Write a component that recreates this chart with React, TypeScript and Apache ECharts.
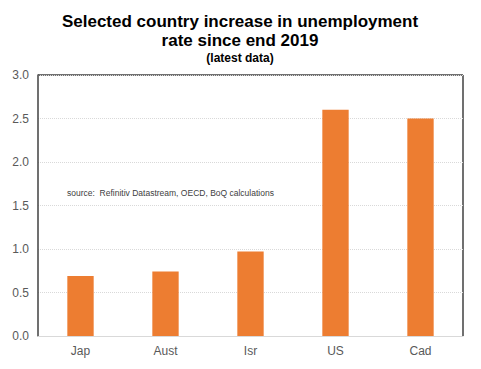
import React, { useEffect, useRef } from "react";
import * as echarts from "echarts";

const categories = ["Jap", "Aust", "Isr", "US", "Cad"];
const values = [0.69, 0.74, 0.97, 2.6, 2.5];
const titleLines = ["Selected country increase in unemployment", "rate since end 2019"];
const subtitle = "(latest data)";
const sourceNote = "source:  Refinitiv Datastream, OECD, BoQ calculations";

export default function App() {
  const ref = useRef<HTMLDivElement>(null);
  useEffect(() => {
    const chart = echarts.init(ref.current!, null, { renderer: "svg" });
    chart.setOption({
      animation: false,
      backgroundColor: "#ffffff",
      grid: { left: 30, right: 18, top: 67, bottom: 33 },
      xAxis: {
        type: "category",
        data: categories,
        axisLine: { lineStyle: { color: "#d9d9d9" } },
        axisTick: { show: false },
        axisLabel: {
          color: "#595959",
          fontFamily: "Liberation Sans",
          fontSize: 12,
          margin: 9,
        },
      },
      yAxis: {
        type: "value",
        min: 0,
        max: 3,
        interval: 0.5,
        axisLine: { show: true, lineStyle: { color: "#404040", width: 1.5 } },
        axisTick: { show: false },
        axisLabel: {
          color: "#595959",
          fontFamily: "Liberation Sans",
          fontSize: 12,
          margin: 9,
          formatter: (v: number) => v.toFixed(1),
        },
        splitLine: { lineStyle: { color: "#d9d9d9", type: "dotted" } },
      },
      series: [
        {
          type: "bar",
          data: values,
          barWidth: "31%",
          itemStyle: { color: "#ED7D31" },
        },
      ],
      graphic: [
        {
          type: "text",
          x: 232,
          y: 13,
          style: {
            text: titleLines[0],
            textAlign: "center",
            textVerticalAlign: "middle",
            fontFamily: "Liberation Sans",
            fontSize: 17,
            fontWeight: "bold",
            fill: "#000",
          },
        },
        {
          type: "text",
          x: 232,
          y: 32,
          style: {
            text: titleLines[1],
            textAlign: "center",
            textVerticalAlign: "middle",
            fontFamily: "Liberation Sans",
            fontSize: 17,
            fontWeight: "bold",
            fill: "#000",
          },
        },
        {
          type: "text",
          x: 232,
          y: 50,
          style: {
            text: subtitle,
            textAlign: "center",
            textVerticalAlign: "middle",
            fontFamily: "Liberation Sans",
            fontSize: 12,
            fontWeight: "bold",
            fill: "#000",
          },
        },
        {
          type: "text",
          x: 59,
          y: 185,
          style: {
            text: sourceNote,
            textVerticalAlign: "middle",
            fontFamily: "Liberation Sans",
            fontSize: 8.5,
            fill: "#404040",
          },
        },
        {
          type: "line",
          shape: { x1: 30, y1: 67, x2: 455, y2: 67 },
          style: { stroke: "#404040", lineWidth: 1.5 },
        },
        {
          type: "line",
          shape: { x1: 455, y1: 67, x2: 455, y2: 328 },
          style: { stroke: "#404040", lineWidth: 1.5 },
        },
      ],
    });
    return () => chart.dispose();
  }, []);
  return <div ref={ref} style={{ width: 473, height: 361 }} />;
}
